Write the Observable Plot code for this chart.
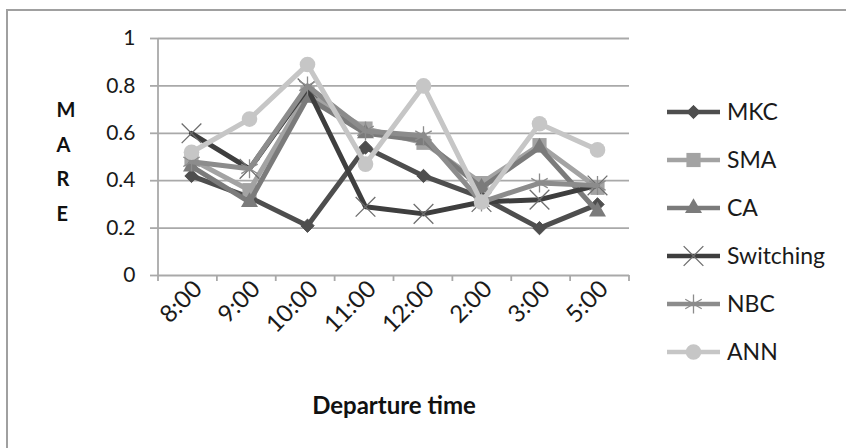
<!DOCTYPE html>
<html><head><meta charset="utf-8">
<script src="https://cdn.jsdelivr.net/npm/d3@7"></script>
<script src="https://cdn.jsdelivr.net/npm/@observablehq/plot@0.6"></script>
<style>html,body{margin:0;padding:0;background:#fff;} svg{display:block;}</style>
</head><body><div id="chart"></div>
<script>
// ---- data ----
const times = ["8:00","9:00","10:00","11:00","12:00","2:00","3:00","5:00"];
const seriesNames = ["MKC","SMA","CA","Switching","NBC","ANN"];
const MKC       = [0.42, 0.33, 0.21, 0.54, 0.42, 0.33, 0.20, 0.30];
const SMA       = [0.49, 0.36, 0.77, 0.62, 0.56, 0.39, 0.55, 0.37];
const CA        = [0.46, 0.31, 0.75, 0.60, 0.57, 0.37, 0.54, 0.27];
const Switching = [0.60, 0.45, 0.79, 0.29, 0.26, 0.31, 0.32, 0.38];
const NBC       = [0.48, 0.45, 0.80, 0.61, 0.59, 0.31, 0.39, 0.38];
const ANN       = [0.52, 0.66, 0.89, 0.47, 0.80, 0.31, 0.64, 0.53];
const yTicks = [0, 0.2, 0.4, 0.6, 0.8, 1];
const yLabel = "M\nA\nR\nE";
const xLabel = "Departure time";

// ---- styles ----
const seriesValues = {MKC, SMA, CA, Switching, NBC, ANN};
const styles = {
  MKC:       {line:"#4e4e4e", symbol:"diamond2", fill:"#4e4e4e", mstroke:"#4e4e4e", msw:1, r:6},
  SMA:       {line:"#a3a3a3", symbol:"square",   fill:"#a3a3a3", mstroke:"none", msw:0, r:8},
  CA:        {line:"#7b7b7b", symbol:"triangle", fill:"#7b7b7b", mstroke:"none", msw:0, r:6.3},
  Switching: {line:"#3e3e3e", symbol:"times",    fill:"none",    mstroke:"#6e6e6e", msw:1.3, r:9},
  NBC:       {line:"#8c8c8c", symbol:"asterisk", fill:"none",    mstroke:"#8c8c8c", msw:1.3, r:9},
  ANN:       {line:"#c6c6c6", symbol:"circle",   fill:"#c6c6c6", mstroke:"none", msw:0, r:7.8}
};
const rows = seriesNames.flatMap(name => seriesValues[name].map((v, i) => ({series: name, time: times[i], value: v})));
const FONT = "Lato, 'Open Sans', sans-serif";
const GRID = "#a9a9a9";

function structure(index, scales, values, dims) {
  const g = d3.create("svg:g");
  const ml = dims.marginLeft, mt = dims.marginTop;
  const y0 = dims.height - dims.marginBottom;
  const xr = dims.width - dims.marginRight;
  g.append("line").attr("x1", ml).attr("x2", ml).attr("y1", mt).attr("y2", y0 + 6)
    .attr("stroke", GRID).attr("stroke-width", 1.8);
  const step = (xr - ml) / times.length;
  for (let i = 1; i <= times.length; i++) {
    const x = ml + i * step;
    g.append("line").attr("x1", x).attr("x2", x).attr("y1", y0).attr("y2", y0 + 6)
      .attr("stroke", GRID).attr("stroke-width", 1.8);
  }
  return g.node();
}

const seriesMarks = seriesNames.flatMap(name => {
  const s = styles[name];
  const data = rows.filter(d => d.series === name);
  return [
    Plot.line(data, {x: "time", y: "value", stroke: s.line, strokeWidth: 5, strokeLinejoin: "round", strokeLinecap: "round"}),
    Plot.dot(data, {x: "time", y: "value", symbol: s.symbol, r: s.r, fill: s.fill, stroke: s.mstroke, strokeWidth: s.msw})
  ];
});

const chart = Plot.plot({
  width: 846, height: 448,
  marginLeft: 158, marginRight: 217, marginTop: 38, marginBottom: 173,
  style: {fontFamily: FONT, background: "#fff", color: "#000", overflow: "visible"},
  x: {type: "point", domain: times, padding: 0.5, axis: null},
  y: {domain: [0, 1], axis: null},
  marks: [
    Plot.ruleY(yTicks, {stroke: GRID, strokeWidth: 1.8}),
    Plot.axisY({ticks: yTicks, tickSize: 8, tickPadding: 15, stroke: GRID, strokeWidth: 1.8, tickFormat: d => String(d), fontSize: 21, label: null, fill: "#1a1a1a"}),
    structure,
    ...seriesMarks,
    Plot.text(times, {x: d => d, frameAnchor: "bottom", rotate: -45, textAnchor: "end", dx: 12, dy: 15, fontSize: 24, fill: "#1a1a1a"}),
    Plot.text([yLabel], {frameAnchor: "left", dx: -102, dy: 1, lineHeight: 1.72, fontWeight: "bold", fontSize: 20, fill: "#111"}),
    Plot.text([xLabel], {frameAnchor: "bottom", dy: 138, fontWeight: "bold", fontSize: 24, fill: "#111"})
  ]
});

// chart border (partially visible, as in the reference)
const svg = d3.select(chart);
svg.insert("rect", ":first-child").attr("x", 7).attr("y", 10).attr("width", 900).attr("height", 600)
  .attr("fill", "none").attr("stroke", "#a0a0a0").attr("stroke-width", 2);

// legend
const legendX = 667, legendY0 = 112, legendStep = 48;
const symbolMap = {diamond2: d3.symbolDiamond2, square: d3.symbolSquare, triangle: d3.symbolTriangle, times: d3.symbolTimes, asterisk: d3.symbolAsterisk, circle: d3.symbolCircle};
const lg = svg.append("g").attr("font-family", FONT).attr("text-anchor", "start");
seriesNames.forEach((name, i) => {
  const s = styles[name];
  const y = legendY0 + i * legendStep;
  lg.append("line").attr("x1", legendX).attr("x2", legendX + 53).attr("y1", y).attr("y2", y)
    .attr("stroke", s.line).attr("stroke-width", 4.5);
  lg.append("path").attr("transform", `translate(${legendX + 26.5},${y})`)
    .attr("d", d3.symbol(symbolMap[s.symbol], Math.PI * s.r * s.r)())
    .attr("fill", s.fill).attr("stroke", s.mstroke).attr("stroke-width", s.msw);
  lg.append("text").attr("x", legendX + 60).attr("y", y).attr("dy", "0.35em")
    .attr("font-size", 23).attr("fill", "#1a1a1a").text(name);
});

document.getElementById("chart").appendChild(chart);
</script>
</body></html>
